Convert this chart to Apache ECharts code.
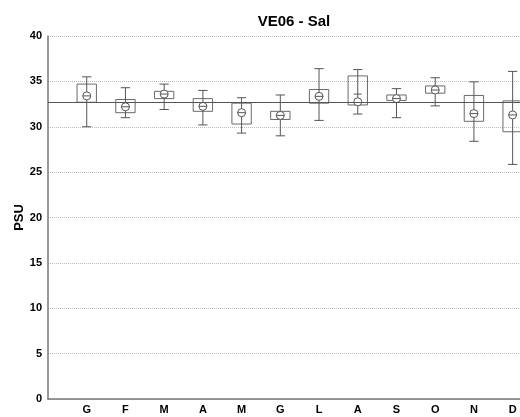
<!DOCTYPE html>
<html>
<head>
<meta charset="utf-8">
<script src="https://cdn.jsdelivr.net/npm/echarts@6/dist/echarts.min.js"></script>
<style>
  html, body { margin: 0; padding: 0; background: #fff; }
  #chart { width: 520px; height: 417px; }
</style>
</head>
<body>
<div id="chart"></div>
<script>
// monthly salinity stats (PSU), Italian month initials
const months = ['G', 'F', 'M', 'A', 'M', 'G', 'L', 'A', 'S', 'O', 'N', 'D']
const minVals = [30.0, 31.0, 31.9, 30.2, 29.3, 29.0, 30.7, 31.4, 31.0, 32.3, 28.4, 25.85]
const q1Vals = [32.7, 31.55, 33.1, 31.7, 30.3, 30.8, 32.6, 32.4, 32.9, 33.7, 30.6, 29.45]
const medianVals = [33.4, 32.2, 33.6, 32.25, 31.55, 31.25, 33.35, 33.6, 33.1, 34.05, 31.45, 31.3]
const q3Vals = [34.7, 33.0, 33.9, 33.1, 32.6, 31.7, 34.1, 35.6, 33.5, 34.5, 33.45, 32.85]
const maxVals = [35.5, 34.3, 34.7, 34.0, 33.2, 33.5, 36.4, 36.3, 34.2, 35.4, 34.95, 36.1]
const meanVals = [33.4, 32.2, 33.6, 32.25, 31.55, 31.25, 33.35, 32.75, 33.1, 34.05, 31.45, 31.3]
const refLine = 32.65
const yTicks = [0, 5, 10, 15, 20, 25, 30, 35, 40]

const chart = echarts.init(document.getElementById('chart'))

const data = months.map((m, i) => [i + 1, minVals[i], q1Vals[i], medianVals[i], q3Vals[i], maxVals[i], meanVals[i]])

const renderBox = (params, api) => {
  const x = api.value(0)
  const pMin = api.coord([x, api.value(1)])
  const pQ1 = api.coord([x, api.value(2)])
  const pMed = api.coord([x, api.value(3)])
  const pQ3 = api.coord([x, api.value(4)])
  const pMax = api.coord([x, api.value(5)])
  const pMean = api.coord([x, api.value(6)])
  const boxW = api.size([0.5, 0])[0]
  const capW = api.size([0.24, 0])[0]
  const cx = pMin[0]
  const r = 4
  const whisker = { stroke: '#555', lineWidth: 1 }
  return {
    type: 'group',
    children: [
      {
        type: 'rect',
        shape: { x: cx - boxW / 2, y: pQ3[1], width: boxW, height: pQ1[1] - pQ3[1] },
        style: { fill: 'none', stroke: '#6a6a6a', lineWidth: 1 }
      },
      { type: 'line', shape: { x1: cx, y1: pMax[1], x2: cx, y2: pMin[1] }, style: whisker },
      { type: 'line', shape: { x1: cx - capW / 2, y1: pMax[1], x2: cx + capW / 2, y2: pMax[1] }, style: whisker },
      { type: 'line', shape: { x1: cx - capW / 2, y1: pMin[1], x2: cx + capW / 2, y2: pMin[1] }, style: whisker },
      {
        type: 'circle',
        shape: { cx: cx, cy: pMean[1], r: r },
        style: { fill: '#fff', stroke: '#555', lineWidth: 1 }
      },
      { type: 'line', shape: { x1: cx - r, y1: pMed[1], x2: cx + r, y2: pMed[1] }, style: whisker }
    ]
  }
}

const option = {
  animation: false,
  title: {
    text: 'VE06 - Sal',
    left: 289,
    textAlign: 'center',
    top: 9,
    textStyle: { fontFamily: 'Liberation Sans', fontSize: 15, fontWeight: 'bold', color: '#000' }
  },
  grid: { left: 48, top: 36, width: 484, height: 363, outerBoundsMode: 'none' },
  xAxis: {
    type: 'value',
    min: 0,
    max: 12.5,
    interval: 1,
    splitLine: { show: false },
    axisTick: { show: false },
    axisLine: { lineStyle: { color: '#777', width: 1.5 } },
    axisLabel: {
      color: '#000',
      fontFamily: 'Liberation Sans',
      fontWeight: 'bold',
      fontSize: 11,
      margin: 5,
      formatter: v => months[v - 1] || ''
    }
  },
  yAxis: {
    type: 'value',
    min: yTicks[0],
    max: yTicks[yTicks.length - 1],
    interval: 5,
    name: 'PSU',
    nameLocation: 'middle',
    nameGap: 22,
    nameRotate: 90,
    nameMoveOverlap: false,
    nameTextStyle: { fontFamily: 'Liberation Sans', fontWeight: 'bold', fontSize: 13, color: '#000' },
    axisLine: { show: true, lineStyle: { color: '#777', width: 1.5 } },
    axisTick: { show: false },
    axisLabel: { color: '#000', fontFamily: 'Liberation Sans', fontWeight: 'bold', fontSize: 11, margin: 6 },
    splitLine: { lineStyle: { color: '#bbb', type: 'dotted', width: 1 } }
  },
  series: [{
    type: 'custom',
    renderItem: renderBox,
    data: data,
    clip: false,
    z: 3,
    markLine: {
      silent: true,
      symbol: 'none',
      label: { show: false },
      lineStyle: { color: '#555', type: 'solid', width: 1 },
      data: [{ yAxis: refLine }]
    }
  }]
}

chart.setOption(option)
</script>
</body>
</html>
